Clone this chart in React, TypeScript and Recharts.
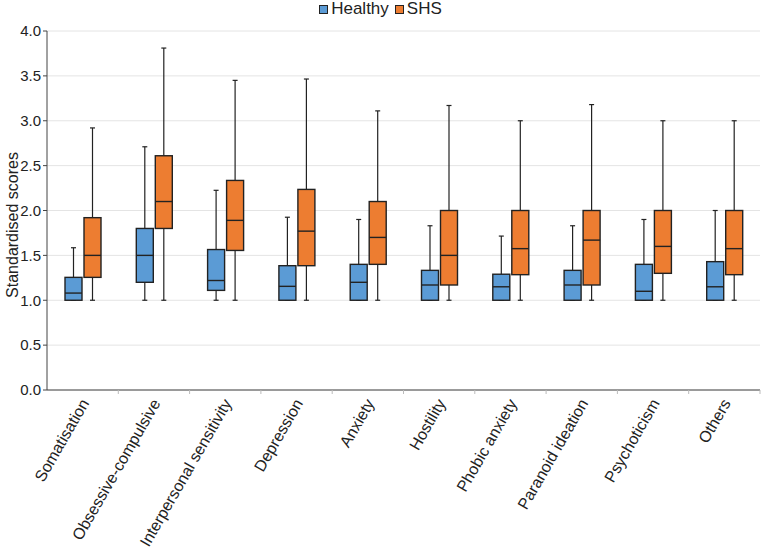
import { ComposedChart, Bar, XAxis, YAxis, CartesianGrid } from "recharts";

const categories = [
  "Somatisation",
  "Obsessive-compulsive",
  "Interpersonal sensitivity",
  "Depression",
  "Anxiety",
  "Hostility",
  "Phobic anxiety",
  "Paranoid ideation",
  "Psychoticism",
  "Others",
];

// Healthy group: min, q1, median, q3, max
const healthyMin = [1, 1, 1, 1, 1, 1, 1, 1, 1, 1];
const healthyQ1 = [1, 1.2, 1.11, 1, 1, 1, 1, 1, 1, 1];
const healthyMedian = [1.08, 1.5, 1.22, 1.155, 1.2, 1.17, 1.15, 1.17, 1.1, 1.15];
const healthyQ3 = [1.255, 1.8, 1.565, 1.385, 1.4, 1.333, 1.29, 1.333, 1.4, 1.43];
const healthyMax = [1.585, 2.71, 2.225, 1.925, 1.9, 1.83, 1.715, 1.83, 1.9, 2.0];

// SHS group
const shsMin = [1, 1, 1, 1, 1, 1, 1, 1, 1, 1];
const shsQ1 = [1.255, 1.8, 1.555, 1.385, 1.4, 1.17, 1.285, 1.17, 1.3, 1.285];
const shsMedian = [1.5, 2.1, 1.89, 1.77, 1.7, 1.5, 1.575, 1.67, 1.6, 1.575];
const shsQ3 = [1.92, 2.61, 2.335, 2.235, 2.1, 2.0, 2.0, 2.0, 2.0, 2.0];
const shsMax = [2.92, 3.81, 3.45, 3.465, 3.11, 3.17, 3.0, 3.18, 3.0, 3.0];

const yTicks = [0, 0.5, 1, 1.5, 2, 2.5, 3, 3.5, 4];

const BLUE = "#5b9bd5";
const ORANGE = "#ed7d31";
const FONT = "'Liberation Sans', Arial, sans-serif";

const data = categories.map((name, i) => ({
  name,
  h: [healthyMin[i], healthyMax[i]],
  hQ1: healthyQ1[i],
  hMed: healthyMedian[i],
  hQ3: healthyQ3[i],
  s: [shsMin[i], shsMax[i]],
  sQ1: shsQ1[i],
  sMed: shsMedian[i],
  sQ3: shsQ3[i],
}));

const makeBox = (prefix: "h" | "s", fill: string) => (props: any) => {
  const { x, y, width, height, payload } = props;
  const [lo, hi] = payload[prefix];
  const top = Math.min(y, y + height);
  const bottom = Math.max(y, y + height);
  const k = hi === lo ? 0 : (bottom - top) / (hi - lo);
  const py = (v: number) => bottom - (v - lo) * k;
  const q1 = py(payload[prefix + "Q1"]);
  const med = py(payload[prefix + "Med"]);
  const q3 = py(payload[prefix + "Q3"]);
  const cx = x + width / 2;
  return (
    <g>
      <line x1={cx} x2={cx} y1={top} y2={q3} stroke="#222" strokeWidth={1.2} />
      <line x1={cx} x2={cx} y1={q1} y2={bottom} stroke="#222" strokeWidth={1.2} />
      <line x1={cx - 2.5} x2={cx + 2.5} y1={top} y2={top} stroke="#222" strokeWidth={1.2} />
      <line x1={cx - 2.5} x2={cx + 2.5} y1={bottom} y2={bottom} stroke="#222" strokeWidth={1.2} />
      <rect x={x} y={q3} width={width} height={q1 - q3} fill={fill} stroke="#222" strokeWidth={1.4} />
      <line x1={x} x2={x + width} y1={med} y2={med} stroke="#222" strokeWidth={1.4} />
    </g>
  );
};

const XTick = (props: any) => {
  const { x, y, payload } = props;
  return (
    <g>
      <line x1={x + 35.65} x2={x + 35.65} y1={y - 8} y2={y - 4} stroke="#bbb" />
      <text
        transform={`translate(${x + 7},${y + 5}) rotate(-60)`}
        textAnchor="end"
        fontSize={16}
        fill="#222"
        fontFamily={FONT}
      >
        {payload.value}
      </text>
    </g>
  );
};

const legendItems = [
  ["Healthy", BLUE],
  ["SHS", ORANGE],
];

export default function App() {
  return (
    <div style={{ position: "absolute", left: 0, top: 0, width: 761, height: 554 }}>
      <div
        style={{
          position: "absolute",
          top: 0,
          left: 0,
          width: 761,
          display: "flex",
          justifyContent: "center",
          alignItems: "center",
          fontFamily: FONT,
          fontSize: 17,
          lineHeight: "18px",
          color: "#222",
          paddingLeft: 6,
          boxSizing: "border-box",
        }}
      >
        {legendItems.map(([label, c]) => (
          <span key={label} style={{ display: "flex", alignItems: "center", marginRight: 6 }}>
            <span
              style={{
                width: 7,
                height: 7,
                background: c,
                border: "1px solid #222",
                marginRight: 3,
                display: "inline-block",
              }}
            />
            {label}
          </span>
        ))}
      </div>
      <ComposedChart
        width={761}
        height={554}
        data={data}
        margin={{ top: 31, right: 1, left: 0, bottom: 0 }}
        barGap={2}
        barSize={17}
      >
        <CartesianGrid vertical={false} stroke="#e4e4e4" />
        <XAxis
          dataKey="name"
          interval={0}
          height={164}
          tickLine={false}
          axisLine={{ stroke: "#444" }}
          tick={<XTick />}
        />
        <YAxis
          domain={[0, 4]}
          ticks={yTicks}
          width={47}
          tickFormatter={(v: number) => v.toFixed(1)}
          tick={{ fontSize: 15, fill: "#222", fontFamily: FONT }}
          tickSize={4}
          tickLine={{ stroke: "#444" }}
          axisLine={{ stroke: "#444" }}
          label={{
            content: () => (
              <text
                transform="translate(18,225) rotate(-90)"
                textAnchor="middle"
                fontSize={16}
                fill="#222"
                fontFamily={FONT}
              >
                Standardised scores
              </text>
            ),
          }}
        />
        <Bar dataKey="h" name="Healthy" fill={BLUE} shape={makeBox("h", BLUE)} isAnimationActive={false} />
        <Bar dataKey="s" name="SHS" fill={ORANGE} shape={makeBox("s", ORANGE)} isAnimationActive={false} />
      </ComposedChart>
    </div>
  );
}
